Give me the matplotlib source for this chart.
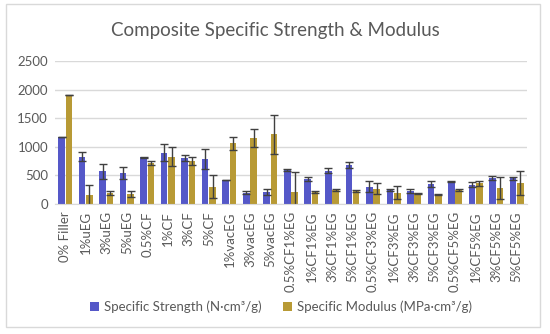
import numpy as np
import matplotlib.pyplot as plt
from matplotlib.patches import Rectangle

plt.rcParams['font.family'] = ['Lato', 'DejaVu Sans']

# data
categories = ['0% Filler', '1%uEG', '3%uEG', '5%uEG', '0.5%CF', '1%CF', '3%CF', '5%CF',
              '1%vacEG', '3%vacEG', '5%vacEG',
              '0.5%CF1%EG', '1%CF1%EG', '3%CF1%EG', '5%CF1%EG',
              '0.5%CF3%EG', '1%CF3%EG', '3%CF3%EG', '5%CF3%EG',
              '0.5%CF5%EG', '1%CF5%EG', '3%CF5%EG', '5%CF5%EG']
strength = [1170, 830, 570, 545, 820, 900, 800, 790, 420, 200, 210,
            600, 430, 580, 680, 305, 245, 235, 350, 395, 340, 460, 450]
strength_err = [5, 80, 135, 110, 10, 145, 55, 175, 5, 25, 50,
                20, 35, 45, 50, 90, 20, 35, 55, 5, 40, 35, 30]
modulus = [1910, 160, 195, 175, 710, 830, 750, 300, 1065, 1160, 1220,
           205, 215, 240, 225, 270, 200, 185, 170, 245, 360, 280, 370]
modulus_err = [5, 170, 40, 45, 35, 170, 70, 200, 115, 160, 345,
               360, 20, 20, 15, 90, 110, 5, 8, 10, 50, 190, 210]

fig = plt.figure(figsize=(5.5, 3.34), dpi=100)
ax = fig.add_axes([0.1, 0.389, 0.858, 0.428])

x = np.arange(len(categories))
w = 0.32
err_kw = dict(ecolor='#404040', elinewidth=1, capsize=3, capthick=1)
ax.bar(x - w / 2 - 0.02, strength, w, yerr=strength_err, color='#5558c8',
       error_kw=err_kw, label='Specific Strength (N·cm³/g)', zorder=2)
ax.bar(x + w / 2 + 0.02, modulus, w, yerr=modulus_err, color='#b89a35',
       error_kw=err_kw, label='Specific Modulus (MPa·cm³/g)', zorder=2)

ax.set_xlim(-0.5, len(categories) - 0.5)
ax.set_ylim(0, 2500)
ax.set_yticks(np.arange(0, 2501, 500))
ax.yaxis.grid(True, color='#d9d9d9', linewidth=1, zorder=0)
ax.set_axisbelow(True)
for s in ['top', 'right', 'left']:
    ax.spines[s].set_visible(False)
ax.spines['bottom'].set_color('#d9d9d9')
ax.set_xticks(x)
ax.set_xticklabels(categories, rotation=90, fontsize=9.5, color='#595959')
ax.tick_params(axis='both', length=0, labelsize=9.5, labelcolor='#595959', pad=5)

fig.suptitle('Composite Specific Strength & Modulus', y=0.935, fontsize=13.5,
             color='#595959')
fig.legend(loc='center', bbox_to_anchor=(0.511, 0.081), ncol=2, frameon=False,
           fontsize=9.5, handlelength=0.7, handleheight=0.7, handletextpad=0.4,
           columnspacing=1.6, labelcolor='#595959')

fig.patches.append(Rectangle((6 / 550, 1 - 327 / 334), 534 / 550, 323 / 334,
                             transform=fig.transFigure, fill=False,
                             edgecolor='#d9d9d9', linewidth=1))

fig.savefig('out.png', dpi=100)
